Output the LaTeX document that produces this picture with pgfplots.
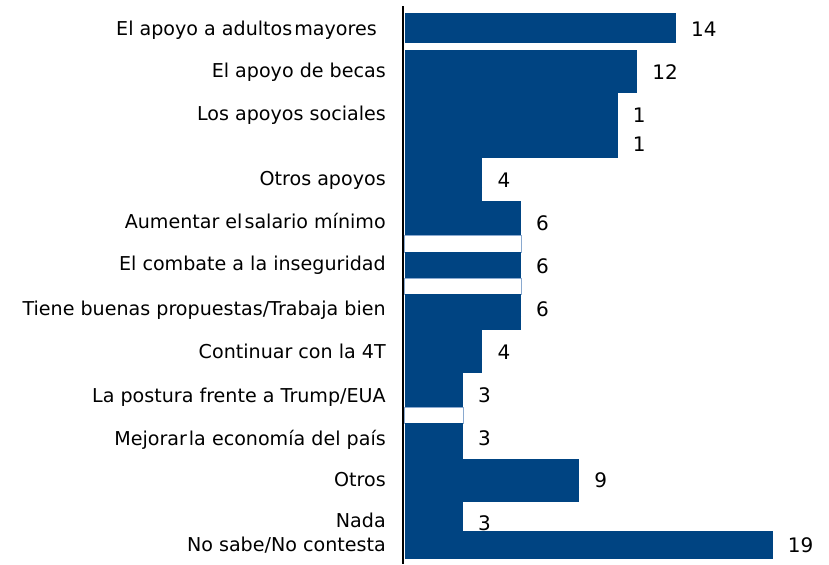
\documentclass[border=0pt]{standalone}
\usepackage{fontspec}
\setmainfont{DejaVu Sans}
\usepackage{pgfplots}
\pgfplotsset{compat=1.18}
\definecolor{barblue}{HTML}{004482}
\definecolor{edgeblue}{HTML}{8AA9CF}
\begin{document}
\begin{tikzpicture}
\begin{axis}[
  scale only axis,
  width=426pt, height=564pt,
  xmin=-0.103, xmax=21.91,
  ymin=0, ymax=564,
  y dir=reverse,
  axis line style={draw=none},
  xtick=\empty,
  major tick length=0pt,
  ytick={36,78,121,186,229,271,316,359,403,446,487,528,552},
  yticklabels={{El apoyo a adultos\kern2pt mayores\kern9pt},El apoyo de becas,Los apoyos sociales,Otros apoyos,{Aumentar el\kern2pt salario mínimo},El combate a la inseguridad,Tiene buenas propuestas/Trabaja bien,Continuar con la 4T,La postura frente a Trump/EUA,{Mejorar\kern2pt la economía del país},Otros,Nada,No sabe/No contesta},
  yticklabel style={anchor=base east, inner sep=0pt, xshift=-17pt, font=\fontsize{19.1}{21}\selectfont, text=black},
  clip=false,
]
% bars: (value, top px, bottom px)
\addplot[fill=barblue, draw=none] coordinates {(0,13) (14,13) (14,43) (0,43)} --cycle;
\addplot[fill=barblue, draw=none] coordinates {(0,50) (12,50) (12,93) (0,93)} --cycle;
\addplot[fill=barblue, draw=none] coordinates {(0,93) (11,93) (11,158) (0,158)} --cycle;
\addplot[fill=barblue, draw=none] coordinates {(0,158) (4,158) (4,201) (0,201)} --cycle;
\addplot[fill=barblue, draw=none] coordinates {(0,201) (6,201) (6,235) (0,235)} --cycle;
\addplot[fill=white, draw=edgeblue, line width=0.9pt] coordinates {(0,235) (6,235) (6,252) (0,252)} --cycle;
\addplot[fill=barblue, draw=none] coordinates {(0,252) (6,252) (6,278) (0,278)} --cycle;
\addplot[fill=white, draw=edgeblue, line width=0.9pt] coordinates {(0,278) (6,278) (6,294) (0,294)} --cycle;
\addplot[fill=barblue, draw=none] coordinates {(0,294) (6,294) (6,330) (0,330)} --cycle;
\addplot[fill=barblue, draw=none] coordinates {(0,330) (4,330) (4,373) (0,373)} --cycle;
\addplot[fill=barblue, draw=none] coordinates {(0,373) (3,373) (3,407) (0,407)} --cycle;
\addplot[fill=white, draw=edgeblue, line width=0.9pt] coordinates {(0,407) (3,407) (3,423) (0,423)} --cycle;
\addplot[fill=barblue, draw=none] coordinates {(0,423) (3,423) (3,459) (0,459)} --cycle;
\addplot[fill=barblue, draw=none] coordinates {(0,459) (9,459) (9,502) (0,502)} --cycle;
\addplot[fill=barblue, draw=none] coordinates {(0,502) (3,502) (3,531) (0,531)} --cycle;
\addplot[fill=barblue, draw=none] coordinates {(0,531) (19,531) (19,559) (0,559)} --cycle;
% value labels (value, baseline px, text)
\addplot[only marks, mark=*, mark size=0pt, mark options={draw=none, fill=none},
  nodes near coords, point meta=explicit symbolic,
  every node near coord/.append style={anchor=base west, xshift=15pt, inner sep=0pt, text=black, font=\fontsize{20}{22}\selectfont}]
  table[meta=label] {
x y label
14 37 14
12 80 12
11 123 1
11 152 1
4 188 4
6 231 6
6 274 6
6 317 6
4 360 4
3 403 3
3 446 3
9 488 9
3 531 3
19 553 19
};
\draw[black, line width=2pt] (axis cs:-0.103,6) -- (axis cs:-0.103,564);
\end{axis}
\path ([xshift=-403pt]current axis.south west) rectangle (current axis.north east);
\end{tikzpicture}
\end{document}
